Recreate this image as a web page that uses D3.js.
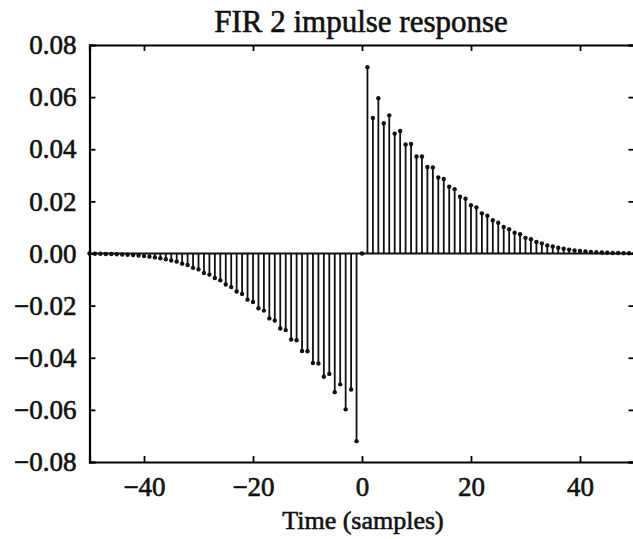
<!DOCTYPE html>
<html>
<head>
<meta charset="utf-8">
<script src="https://cdn.jsdelivr.net/npm/d3@7"></script>
<style>
  body { margin: 0; background: #fff; }
  text { font-family: "Liberation Serif", "Times New Roman", serif; fill: #111; stroke: #111; stroke-width: 0.6; }
</style>
</head>
<body>
<div id="chart"></div>
<script>
// Sample indices and values
const posIdx = d3.range(1, 51);
const posVals = [
  0.0715, 0.0520, 0.0596, 0.0500, 0.0530, 0.0460, 0.0470, 0.0418, 0.0420, 0.0372,
  0.0372, 0.0332, 0.0330, 0.0292, 0.0286, 0.0256, 0.0247, 0.0218, 0.0210, 0.0185,
  0.0177, 0.0154, 0.0145, 0.0128, 0.0118, 0.0102, 0.0093, 0.0080, 0.0074, 0.0060,
  0.0055, 0.0044, 0.0039, 0.0031, 0.0027, 0.0022, 0.0018, 0.0015, 0.0012, 0.0010,
  0.0008, 0.0006, 0.0005, 0.0004, 0.0003, 0.0002, 0.0002, 0.0001, 0.0001, 0.0000
];
const negIdx = d3.range(-1, -51, -1);
const negVals = [
  -0.0720, -0.0522, -0.0598, -0.0502, -0.0532, -0.0462, -0.0473, -0.0422, -0.0420, -0.0375,
  -0.0374, -0.0333, -0.0330, -0.0294, -0.0288, -0.0257, -0.0249, -0.0219, -0.0210, -0.0186,
  -0.0177, -0.0155, -0.0146, -0.0129, -0.0119, -0.0103, -0.0094, -0.0081, -0.0075, -0.0061,
  -0.0055, -0.0044, -0.0039, -0.0031, -0.0027, -0.0022, -0.0018, -0.0015, -0.0012, -0.0010,
  -0.0008, -0.0006, -0.0005, -0.0004, -0.0003, -0.0002, -0.0002, -0.0001, -0.0001, 0.0000
];
const xTicks = [-40, -20, 0, 20, 40];
const yTicks = [-0.08, -0.06, -0.04, -0.02, 0.00, 0.02, 0.04, 0.06, 0.08];

const data = [{ n: 0, v: 0 }]
  .concat(posIdx.map((n, i) => ({ n: n, v: posVals[i] })))
  .concat(negIdx.map((n, i) => ({ n: n, v: negVals[i] })));

const width = 633, height = 539;
const margin = { top: 45, right: -1.5, bottom: 77, left: 89.5 };

const svg = d3.select("#chart").append("svg")
  .attr("width", width)
  .attr("height", height);

const x = d3.scaleLinear().domain([-50, 50]).range([margin.left, width - margin.right]);
const y = d3.scaleLinear().domain([-0.08, 0.08]).range([height - margin.bottom, margin.top]);

// zero line
svg.append("line")
  .attr("x1", x(-50)).attr("x2", x(50))
  .attr("y1", y(0)).attr("y2", y(0))
  .attr("stroke", "#111").attr("stroke-width", 1.8);

// stems
svg.selectAll("line.stem")
  .data(data)
  .enter()
  .append("line")
  .attr("class", "stem")
  .attr("x1", d => x(d.n)).attr("x2", d => x(d.n))
  .attr("y1", y(0)).attr("y2", d => y(d.v))
  .attr("stroke", "#111")
  .attr("stroke-width", 1.8);

svg.selectAll("circle.dot")
  .data(data)
  .enter()
  .append("circle")
  .attr("class", "dot")
  .attr("cx", d => x(d.n))
  .attr("cy", d => y(d.v))
  .attr("r", 2.2)
  .attr("fill", "#111");

// axes, ticks pointing inward on all four sides
const tickLen = 6;
svg.append("g")
  .attr("transform", `translate(0,${y(-0.08)})`)
  .call(d3.axisBottom(x).tickValues(xTicks).tickSize(-tickLen).tickPadding(15)
    .tickFormat(d => d < 0 ? "\u2212" + Math.abs(d) : d))
  .call(g => g.select(".domain").attr("stroke-width", 2.2))
  .call(g => g.selectAll(".tick line").attr("stroke-width", 1.8))
  .call(g => g.selectAll(".tick text").attr("font-size", 27).attr("font-family", null));

svg.append("g")
  .attr("transform", `translate(0,${y(0.08)})`)
  .call(d3.axisTop(x).tickValues(xTicks).tickSize(-tickLen).tickFormat(""))
  .call(g => g.select(".domain").attr("stroke-width", 2.2))
  .call(g => g.selectAll(".tick line").attr("stroke-width", 1.8));

svg.append("g")
  .attr("transform", `translate(${x(-50)},0)`)
  .call(d3.axisLeft(y).tickValues(yTicks).tickSize(-tickLen).tickPadding(13)
    .tickFormat(d => (d < 0 ? "\u2212" : "") + Math.abs(d).toFixed(2)))
  .call(g => g.select(".domain").attr("stroke-width", 2.2))
  .call(g => g.selectAll(".tick line").attr("stroke-width", 1.8))
  .call(g => g.selectAll(".tick text").attr("font-size", 27).attr("font-family", null));

svg.append("g")
  .attr("transform", `translate(${x(50)},0)`)
  .call(d3.axisRight(y).tickValues(yTicks).tickSize(-tickLen).tickFormat(""))
  .call(g => g.select(".domain").attr("stroke-width", 2.2))
  .call(g => g.selectAll(".tick line").attr("stroke-width", 1.8));

// title and label
svg.append("text")
  .attr("x", 361).attr("y", 32)
  .attr("text-anchor", "middle")
  .attr("font-size", 31)
  .text("FIR 2 impulse response");

svg.append("text")
  .attr("x", 363).attr("y", 529)
  .attr("text-anchor", "middle")
  .attr("font-size", 26)
  .text("Time (samples)");
</script>
</body>
</html>
